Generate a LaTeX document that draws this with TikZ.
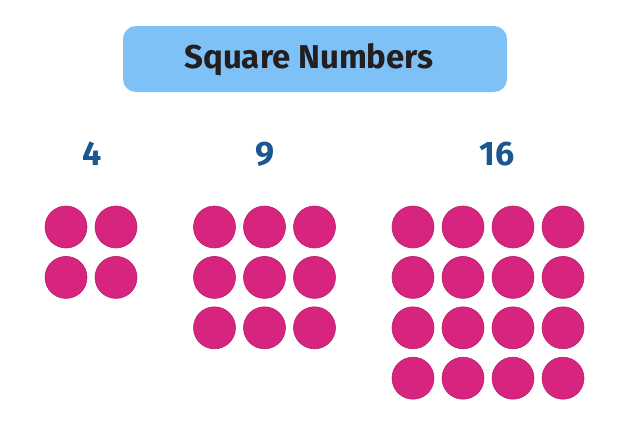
\documentclass[tikz,border=0pt]{standalone}
\usepackage{fontspec}
\setmainfont{Fira Sans}
\definecolor{titleblue}{HTML}{7EC1F6}
\definecolor{numblue}{HTML}{1A5690}
\definecolor{dotpink}{HTML}{D6247F}
\definecolor{inkdark}{HTML}{231F20}
\tikzset{
  sqdot/.style={circle,fill=dotpink,draw=dotpink!85!black,line width=0.6pt,minimum size=42pt,inner sep=0pt},
  sqnum/.style={text=numblue,anchor=base,font=\fontsize{34}{34}\selectfont\bfseries},
  sqtitle/.style={fill=titleblue,rounded corners=13pt}
}
\begin{document}
\begin{tikzpicture}[x=1pt,y=-1pt]
        \useasboundingbox (0,0) rectangle (630,445);
        % title
        \fill[sqtitle] (123,26) rectangle (507,92);
        \node[anchor=base,text=inkdark,font=\fontsize{33}{33}\selectfont\bfseries] (title) at (309,68) {Square Numbers};
        % numbers
        \node[sqnum] (four) at (92,165) {4};
        \node[sqnum] (nine) at (265,165) {9};
        \node[sqnum] (sixteen) at (497,165) {16};
        % dots
        \foreach \i in {0,1}
            \foreach \j in {0,1}
                \node[sqdot] (a\i\j) at ({66+50*\i},{227+50.4*\j}) {};
        \foreach \i in {0,1,2}
            \foreach \j in {0,1,2}
                \node[sqdot] (b\i\j) at ({214.5+50*\i},{227+50.4*\j}) {};
        \foreach \i in {0,1,2,3}
            \foreach \j in {0,1,2,3}
                \node[sqdot] (c\i\j) at ({413+50*\i},{227+50.4*\j}) {};
\end{tikzpicture}
\end{document}
